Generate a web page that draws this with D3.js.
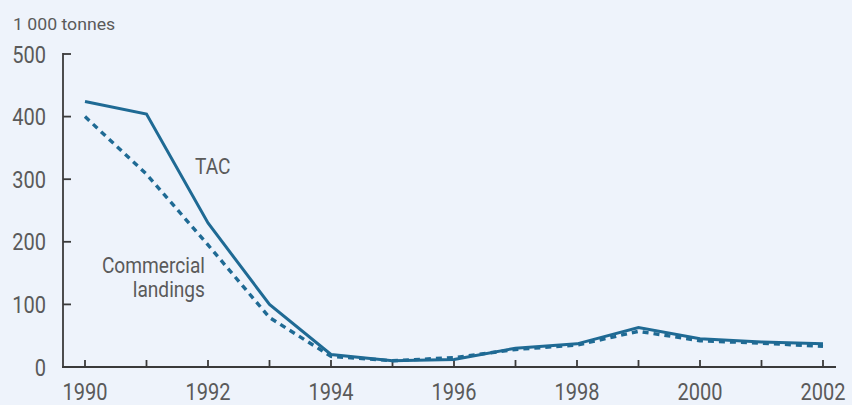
<!DOCTYPE html>
<html><head><meta charset="utf-8">
<script src="https://cdn.jsdelivr.net/npm/d3@7"></script>
<style>
html,body{margin:0;padding:0;background:#eef3fb;}
svg{display:block;}
text{font-family:Roboto,"Liberation Sans",Arial,sans-serif;fill:#5a5a5a;}
</style></head>
<body>
<svg id="c" width="852" height="405"></svg>
<script>
const years = [1990,1991,1992,1993,1994,1995,1996,1997,1998,1999,2000,2001,2002];
const tac = [424,404,230,100,20,10,12,30,37,63,45,40,37];
const landings = [400,308,195,79,17,10,15,28,35,57,42,38,33];
const yTicks = [0,100,200,300,400,500];
const xTicks = [1990,1992,1994,1996,1998,2000,2002];

const svg = d3.select("#c");
const x = d3.scaleLinear().domain([1990,2002]).range([85,823]);
const y = d3.scaleLinear().domain([0,500]).range([367,54]);
const SX = 0.87;

// condensed text helper
function ctext(g, px, py, str, size, anchor, sx){
  return g.append("text")
    .attr("transform",`translate(${px},${py}) scale(${sx||SX},1)`)
    .attr("text-anchor",anchor||"start")
    .attr("font-size",size).text(str);
}

// axes
const ax = svg.append("g").attr("stroke","#3a3a3a").attr("stroke-width",1.8);
ax.append("line").attr("x1",63).attr("x2",63).attr("y1",y(500)-1).attr("y2",y(0));
ax.append("line").attr("x1",62).attr("x2",836).attr("y1",y(0)).attr("y2",y(0));
ax.selectAll(".yt").data(yTicks.filter(d=>d>0)).join("line")
  .attr("x1",63).attr("x2",71).attr("y1",d=>y(d)).attr("y2",d=>y(d));
ax.selectAll(".xt").data(years).join("line")
  .attr("x1",d=>x(d)).attr("x2",d=>x(d)).attr("y1",y(0)).attr("y2",y(0)-7);

yTicks.forEach(d=>ctext(svg,46,y(d)+8.5,d,23,"end"));
xTicks.forEach(d=>ctext(svg,x(d),400,d,23,"middle"));

ctext(svg,13,30,"1 000 tonnes",17,"start",1.04);

const line = d3.line().x((d,i)=>x(years[i])).y(d=>y(d));
svg.append("path").datum(landings).attr("d",line).attr("fill","none")
  .attr("stroke","#1f6a94").attr("stroke-width",3.4).attr("stroke-dasharray","6,5");
svg.append("path").datum(tac).attr("d",line).attr("fill","none")
  .attr("stroke","#1f6a94").attr("stroke-width",3);

ctext(svg,195,174,"TAC",22,"start");
ctext(svg,205,273,"Commercial",22,"end");
ctext(svg,205,297,"landings",22,"end");
</script>
</body></html>
